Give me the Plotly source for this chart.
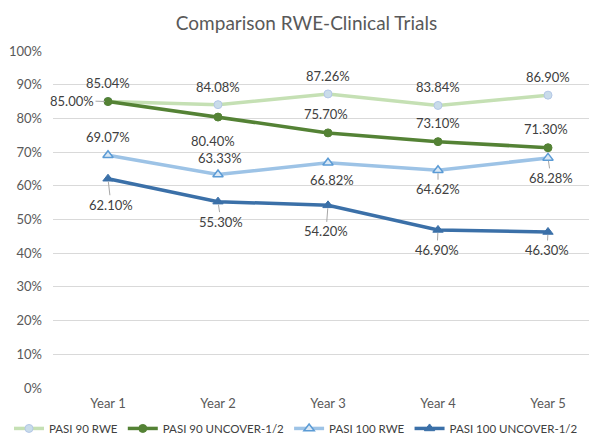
import plotly.graph_objects as go

categories = ["Year 1", "Year 2", "Year 3", "Year 4", "Year 5"]
pasi90_rwe = [0.8504, 0.8408, 0.8726, 0.8384, 0.8690]
pasi90_uncover = [0.8500, 0.8040, 0.7570, 0.7310, 0.7130]
pasi100_rwe = [0.6907, 0.6333, 0.6682, 0.6462, 0.6828]
pasi100_uncover = [0.6210, 0.5530, 0.5420, 0.4690, 0.4630]
y_ticks = [0, 0.1, 0.2, 0.3, 0.4, 0.5, 0.6, 0.7, 0.8, 0.9, 1.0]
series_names = ["PASI 90 RWE", "PASI 90 UNCOVER-1/2", "PASI 100 RWE", "PASI 100 UNCOVER-1/2"]

FONT = "Lato"
TXT = "#404040"

styles = [
    dict(line=dict(color="#c5e0b4", width=3.5),
         marker=dict(symbol="circle", size=8, color="#c9dcea", line=dict(color="#b4c7e7", width=1))),
    dict(line=dict(color="#548235", width=3.5),
         marker=dict(symbol="circle", size=8, color="#548235", line=dict(color="#548235", width=1))),
    dict(line=dict(color="#9dc3e6", width=3.5),
         marker=dict(symbol="triangle-up", size=9, color="#dae8f5", line=dict(color="#5b9bd5", width=1.5))),
    dict(line=dict(color="#3b70a8", width=3.5),
         marker=dict(symbol="triangle-up", size=9, color="#3b70a8", line=dict(color="#3b70a8", width=1))),
]

# label offsets (dx, dy pixels; dy positive = down) and whether a leader line is drawn
label_layout = [
    [(0, -18, False)] * 5,
    [(-36, -1, True), (-5, 24, False), (-2, -19, False), (0, -19, False), (-2, -19, False)],
    [(0, -18, False), (2, -17, False), (4, 17, False), (0, 19, True), (3, 20, True)],
    [(3, 26, True), (3, 20, True), (-2, 26, True), (-1, 20, True), (-1, 18, True)],
]

all_series = [pasi90_rwe, pasi90_uncover, pasi100_rwe, pasi100_uncover]

fig = go.Figure()
for name, vals, st in zip(series_names, all_series, styles):
    fig.add_trace(go.Scatter(x=categories, y=vals, name=name, mode="lines+markers",
                             line=st["line"], marker=st["marker"]))

annotations = []
for vals, offs in zip(all_series, label_layout):
    for cat, v, (dx, dy, leader) in zip(categories, vals, offs):
        txt = f"{v*100:.2f}%"
        if leader:
            annotations.append(dict(x=cat, y=v, xref="x", yref="y", text=txt, showarrow=True,
                                    ax=dx, ay=dy, arrowhead=0, arrowwidth=1, arrowcolor="#a6a6a6",
                                    standoff=3, font=dict(family=FONT, size=13, color=TXT)))
        else:
            annotations.append(dict(x=cat, y=v, xref="x", yref="y", text=txt, showarrow=False,
                                    xshift=dx, yshift=-dy, font=dict(family=FONT, size=13, color=TXT)))

fig.update_layout(
    width=597, height=438,
    margin=dict(l=45, r=2, t=43, b=58, autoexpand=False),
    paper_bgcolor="white", plot_bgcolor="white",
    title=dict(text="Comparison RWE-Clinical Trials", x=0.5, xref="container", xanchor="center",
               y=0.965, yref="container", yanchor="middle",
               font=dict(family=FONT, size=19, color="#595959")),
    font=dict(family=FONT, size=12, color=TXT),
    showlegend=True,
    legend=dict(orientation="h", x=-0.08, xref="paper", xanchor="left",
                y=-0.12, yref="paper", yanchor="middle", font=dict(family=FONT, size=11.5, color=TXT),
                itemwidth=30, tracegroupgap=0, bgcolor="rgba(0,0,0,0)", borderwidth=0),
    annotations=annotations,
)
fig.update_xaxes(type="category", range=[-0.5, 4.5], showgrid=False, showline=False, zeroline=False,
                 ticks="", tickfont=dict(family=FONT, size=13, color="#595959"),
                 ticklabelstandoff=6, tickangle=0)
fig.update_yaxes(range=[0, 1.0], tickvals=y_ticks, tickformat=".0%", showgrid=True,
                 gridcolor="#d9d9d9", gridwidth=1, zeroline=False, showline=False, ticks="",
                 tickfont=dict(family=FONT, size=13, color="#595959"), ticklabelstandoff=10)

fig.write_html("out.html")
